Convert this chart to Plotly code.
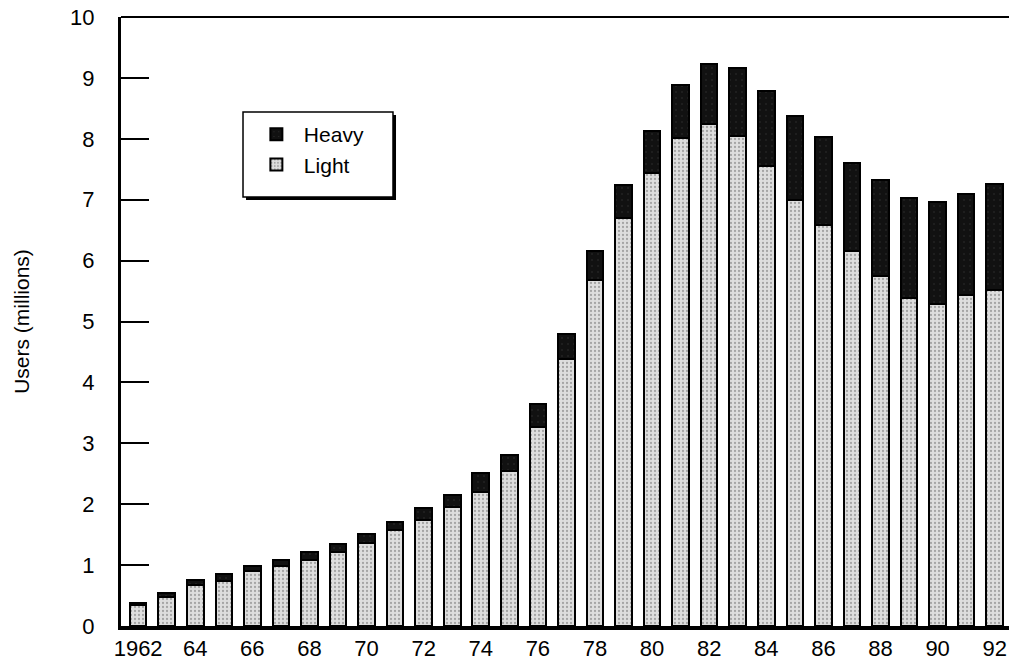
import plotly.graph_objects as go

years = list(range(1962, 1993))
light = [0.35, 0.47, 0.67, 0.74, 0.90, 0.99, 1.09, 1.22, 1.37, 1.57, 1.74,
         1.95, 2.20, 2.54, 3.27, 4.38, 5.68, 6.70, 7.44, 8.01, 8.25,
         8.04, 7.56, 7.00, 6.58, 6.16, 5.74, 5.38, 5.29, 5.44, 5.52]
heavy = [0.02, 0.08, 0.08, 0.11, 0.08, 0.09, 0.12, 0.12, 0.14, 0.13, 0.19,
         0.20, 0.31, 0.26, 0.37, 0.41, 0.47, 0.54, 0.69, 0.88, 0.98,
         1.12, 1.22, 1.38, 1.45, 1.45, 1.59, 1.65, 1.68, 1.66, 1.73]
tick_years = list(range(1962, 1993, 2))
tick_text = ["1962"] + [str(y)[2:] for y in tick_years[1:]]
y_ticks = list(range(0, 11))

FONT = "Liberation Sans, Arial, sans-serif"

fig = go.Figure()
fig.add_trace(go.Bar(
    x=years, y=light, name="Light", legendrank=2,
    marker=dict(color="#d8d8d8", line=dict(color="#000", width=2),
                pattern=dict(shape=".", fgcolor="#6a6a6a", bgcolor="#dedede",
                             size=4, solidity=0.25)),
))
fig.add_trace(go.Bar(
    x=years, y=heavy, name="Heavy", legendrank=1,
    marker=dict(color="#111111", line=dict(color="#000", width=2),
                pattern=dict(shape=".", fgcolor="#555", bgcolor="#111111",
                             size=6, solidity=0.04)),
))

# legend frame with drop shadow
fig.add_shape(type="rect", xref="paper", yref="paper",
              x0=0.1408, x1=0.3097, y0=0.6995, y1=0.8391,
              fillcolor="#000", line=dict(width=0), layer="above")
fig.add_shape(type="rect", xref="paper", yref="paper",
              x0=0.1374, x1=0.3063, y0=0.7044, y1=0.844,
              fillcolor="white", line=dict(color="#000", width=1.5),
              layer="above")
# top frame line
fig.add_shape(type="line", xref="paper", yref="paper",
              x0=0, x1=1, y0=1, y1=1, line=dict(color="#000", width=2))

fig.update_layout(
    width=1009, height=668,
    margin=dict(l=121, r=0, t=17, b=42),
    barmode="stack", bargap=0.42,
    plot_bgcolor="white", paper_bgcolor="white",
    font=dict(family=FONT, size=22, color="#000"),
    showlegend=True,
    legend=dict(x=0.144, y=0.8407, xanchor="left", yanchor="top",
                bgcolor="rgba(0,0,0,0)", borderwidth=0,
                traceorder="normal", font=dict(size=21),
                itemwidth=45),
    xaxis=dict(range=[1961.4, 1992.5], tickvals=tick_years, ticktext=tick_text,
               showgrid=False, zeroline=False, showline=True,
               linecolor="#000", linewidth=4, ticks=""),
    yaxis=dict(range=[0, 10], tickvals=y_ticks, showgrid=False, zeroline=False,
               showline=True, linecolor="#000", linewidth=3,
               ticks="inside", ticklen=28, tickwidth=2, tickcolor="#000",
               ticklabelstandoff=19,
               title=dict(text="Users (millions)", standoff=35,
                          font=dict(size=21))),
)

fig.write_html(
    "out.html",
    config={"displayModeBar": False},
    post_script="document.body.style.margin='0';document.body.style.overflow='hidden';",
)
